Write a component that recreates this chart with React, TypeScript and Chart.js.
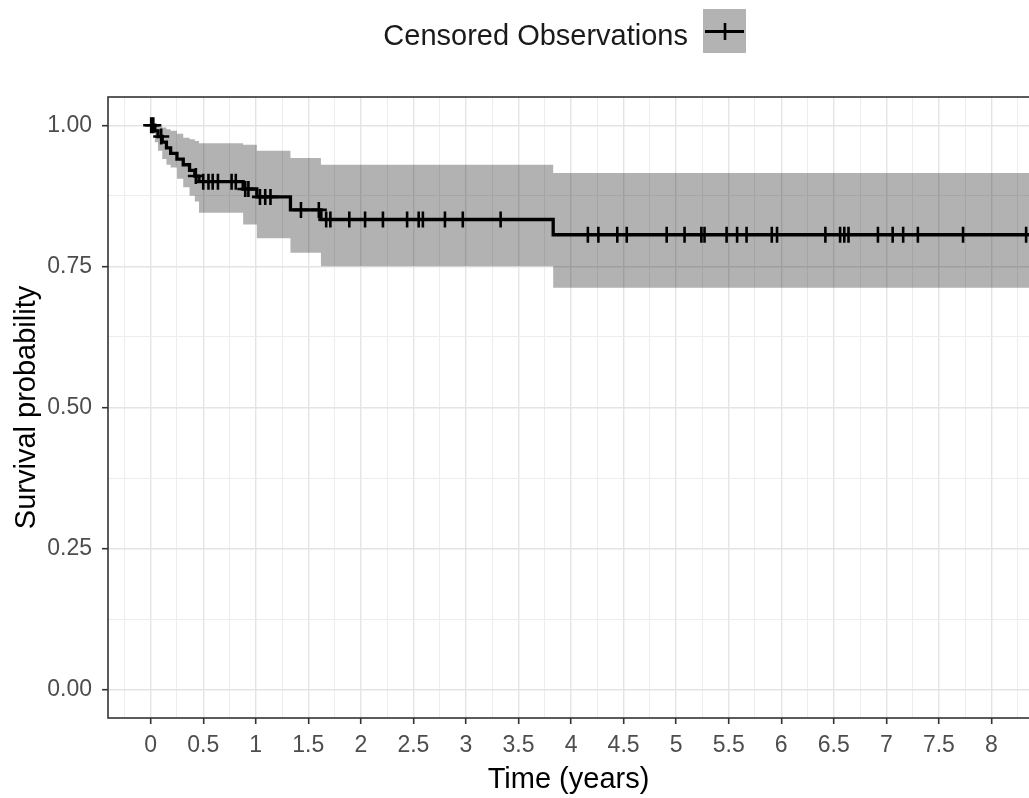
import React, { useEffect, useRef } from "react";
import { Chart, registerables } from "chart.js";

Chart.register(...registerables);

// ---- Data ----
const kmTimes = [0, 0.04, 0.07, 0.11, 0.15, 0.19, 0.25, 0.31, 0.37, 0.42, 0.46, 0.88, 1.01, 1.33, 1.62, 3.83, 8.4];
const kmSurv = [1, 0.99, 0.98, 0.97, 0.96, 0.95, 0.94, 0.93, 0.92, 0.91, 0.9, 0.887, 0.873, 0.85, 0.833, 0.806, 0.806];
const ciUpper = [1, 1, 0.998, 0.996, 0.993, 0.99, 0.985, 0.978, 0.975, 0.972, 0.968, 0.9655, 0.955, 0.942, 0.93, 0.9153, 0.9153];
const ciLower = [1, 0.97, 0.955, 0.94, 0.93, 0.925, 0.905, 0.89, 0.875, 0.865, 0.845, 0.824, 0.8, 0.774, 0.75, 0.712, 0.712];
const censorTimes = [
  0.005, 0.025, 0.1, 0.43, 0.5, 0.55, 0.59, 0.64, 0.77, 0.81, 0.9, 0.93, 1.04, 1.09, 1.14,
  1.43, 1.6, 1.67, 1.71, 1.89, 2.04, 2.21, 2.44, 2.55, 2.59, 2.8, 2.97, 3.33,
  4.16, 4.26, 4.44, 4.53, 4.91, 5.08, 5.24, 5.27, 5.48, 5.58, 5.67, 5.91, 5.96,
  6.42, 6.56, 6.6, 6.64, 6.92, 7.06, 7.16, 7.3, 7.73, 8.33,
];

const xMajorTicks = [0, 0.5, 1, 1.5, 2, 2.5, 3, 3.5, 4, 4.5, 5, 5.5, 6, 6.5, 7, 7.5, 8];
const xTickLabels = ["0", "0.5", "1", "1.5", "2", "2.5", "3", "3.5", "4", "4.5", "5", "5.5", "6", "6.5", "7", "7.5", "8"];
const xMinorTicks = [-0.25, 0.25, 0.75, 1.25, 1.75, 2.25, 2.75, 3.25, 3.75, 4.25, 4.75, 5.25, 5.75, 6.25, 6.75, 7.25, 7.75, 8.25];
const yMajorTicks = [0, 0.25, 0.5, 0.75, 1];
const yTickLabels = ["0.00", "0.25", "0.50", "0.75", "1.00"];
const yMinorTicks = [0.125, 0.375, 0.625, 0.875];

const xTitle = "Time (years)";
const yTitle = "Survival probability";
const legendLabel = "Censored Observations";

const FONT = '"Liberation Sans", Arial, sans-serif';

function survAt(t: number): number {
  let s = kmSurv[0];
  for (let i = 0; i < kmTimes.length; i++) {
    if (kmTimes[i] <= t) s = kmSurv[i];
  }
  return s;
}

function findIdx(arr: number[], v: number) {
  return arr.findIndex((a) => Math.abs(a - v) < 1e-9);
}

const decor = {
  id: "decor",
  afterDraw(chart: any) {
    const { ctx, chartArea: a } = chart;
    ctx.save();
    // panel border
    ctx.strokeStyle = "#333333";
    ctx.lineWidth = 1.6;
    ctx.strokeRect(a.left, a.top, a.right - a.left, a.bottom - a.top);
    // axis titles (centred on the visible panel width)
    const visRight = 1029;
    ctx.fillStyle = "#000000";
    ctx.font = `29px ${FONT}`;
    ctx.textAlign = "center";
    ctx.textBaseline = "alphabetic";
    ctx.fillText(xTitle, (a.left + visRight) / 2, 788);
    ctx.save();
    ctx.translate(35, (a.top + a.bottom) / 2);
    ctx.rotate(-Math.PI / 2);
    ctx.fillText(yTitle, 0, 0);
    ctx.restore();
    // legend
    ctx.fillStyle = "#1a1a1a";
    ctx.textAlign = "right";
    ctx.fillText(legendLabel, 688, 45);
    ctx.fillStyle = "#b3b3b3";
    ctx.fillRect(703, 9, 43, 44);
    ctx.strokeStyle = "#000000";
    ctx.lineWidth = 3.2;
    ctx.beginPath();
    ctx.moveTo(705, 31.5);
    ctx.lineTo(744, 31.5);
    ctx.stroke();
    ctx.lineWidth = 2.6;
    ctx.beginPath();
    ctx.moveTo(725, 23);
    ctx.lineTo(725, 40);
    ctx.stroke();
    ctx.restore();
  },
};

export default function App() {
  const ref = useRef<HTMLCanvasElement | null>(null);

  useEffect(() => {
    if (!ref.current) return;
    const kmData = kmTimes.map((t, i) => ({ x: t, y: kmSurv[i] }));
    const upData = kmTimes.map((t, i) => ({ x: t, y: ciUpper[i] }));
    const loData = kmTimes.map((t, i) => ({ x: t, y: ciLower[i] }));
    const cData = censorTimes.map((t) => ({ x: t, y: survAt(t) }));

    const chart = new Chart(ref.current, {
      type: "line",
      data: {
        datasets: [
          {
            data: upData,
            stepped: "before",
            borderWidth: 0,
            borderColor: "rgba(0,0,0,0)",
            pointRadius: 0,
            fill: false,
            order: 5,
          },
          {
            data: loData,
            stepped: "before",
            borderWidth: 0,
            borderColor: "rgba(0,0,0,0)",
            pointRadius: 0,
            fill: "-1",
            backgroundColor: "rgba(0,0,0,0.3)",
            order: 4,
          },
          {
            data: kmData,
            stepped: "before",
            borderWidth: 3.3,
            borderColor: "#000000",
            pointRadius: 0,
            fill: false,
            order: 2,
          },
          {
            data: cData,
            showLine: false,
            pointStyle: "cross",
            pointRadius: 8,
            pointBorderWidth: 2.6,
            pointBorderColor: "#000000",
            borderColor: "#000000",
            fill: false,
            order: 1,
          },
        ],
      },
      options: {
        animation: false,
        responsive: false,
        maintainAspectRatio: false,
        events: [],
        layout: { padding: { top: 97, left: 0, right: 0, bottom: 0 }, autoPadding: false },
        plugins: { legend: { display: false }, tooltip: { enabled: false }, title: { display: false } },
        scales: {
          x: {
            type: "linear",
            min: -0.406,
            max: 8.405,
            afterBuildTicks: (scale: any) => {
              scale.ticks = [...xMajorTicks, ...xMinorTicks].sort((p, q) => p - q).map((v) => ({ value: v }));
            },
            afterFit: (scale: any) => {
              scale.height = 80;
            },
            ticks: {
              autoSkip: false,
              maxRotation: 0,
              minRotation: 0,
              padding: 8,
              color: "#4d4d4d",
              font: { family: FONT, size: 23 },
              callback: (v: any) => {
                const i = findIdx(xMajorTicks, Number(v));
                return i >= 0 ? xTickLabels[i] : "";
              },
            },
            grid: {
              color: (c: any) => (findIdx(xMajorTicks, c.tick?.value) >= 0 ? "#e4e4e4" : "#ededed"),
              lineWidth: (c: any) => (findIdx(xMajorTicks, c.tick?.value) >= 0 ? 1.4 : 1),
              tickColor: (c: any) => (findIdx(xMajorTicks, c.tick?.value) >= 0 ? "#333333" : "rgba(0,0,0,0)"),
              tickWidth: 1.6,
              tickLength: 6,
              drawTicks: true,
            },
            border: { display: false },
          },
          y: {
            type: "linear",
            min: -0.05,
            max: 1.05,
            afterBuildTicks: (scale: any) => {
              scale.ticks = [...yMajorTicks, ...yMinorTicks].sort((p, q) => p - q).map((v) => ({ value: v }));
            },
            afterFit: (scale: any) => {
              scale.width = 108;
            },
            ticks: {
              autoSkip: false,
              padding: 10,
              color: "#4d4d4d",
              font: { family: FONT, size: 23 },
              callback: (v: any) => {
                const i = findIdx(yMajorTicks, Number(v));
                return i >= 0 ? yTickLabels[i] : "";
              },
            },
            grid: {
              color: (c: any) => (findIdx(yMajorTicks, c.tick?.value) >= 0 ? "#e4e4e4" : "#ededed"),
              lineWidth: (c: any) => (findIdx(yMajorTicks, c.tick?.value) >= 0 ? 1.4 : 1),
              tickColor: (c: any) => (findIdx(yMajorTicks, c.tick?.value) >= 0 ? "#333333" : "rgba(0,0,0,0)"),
              tickWidth: 1.6,
              tickLength: 6,
              drawTicks: true,
            },
            border: { display: false },
          },
        },
      },
      plugins: [decor],
    } as any);
    return () => chart.destroy();
  }, []);

  return (
    <div style={{ position: "fixed", left: 0, top: 0, width: 1029, height: 798, overflow: "hidden", background: "#ffffff" }}>
      <canvas ref={ref} width={1034} height={798} style={{ display: "block", width: 1034, height: 798 }} />
    </div>
  );
}
